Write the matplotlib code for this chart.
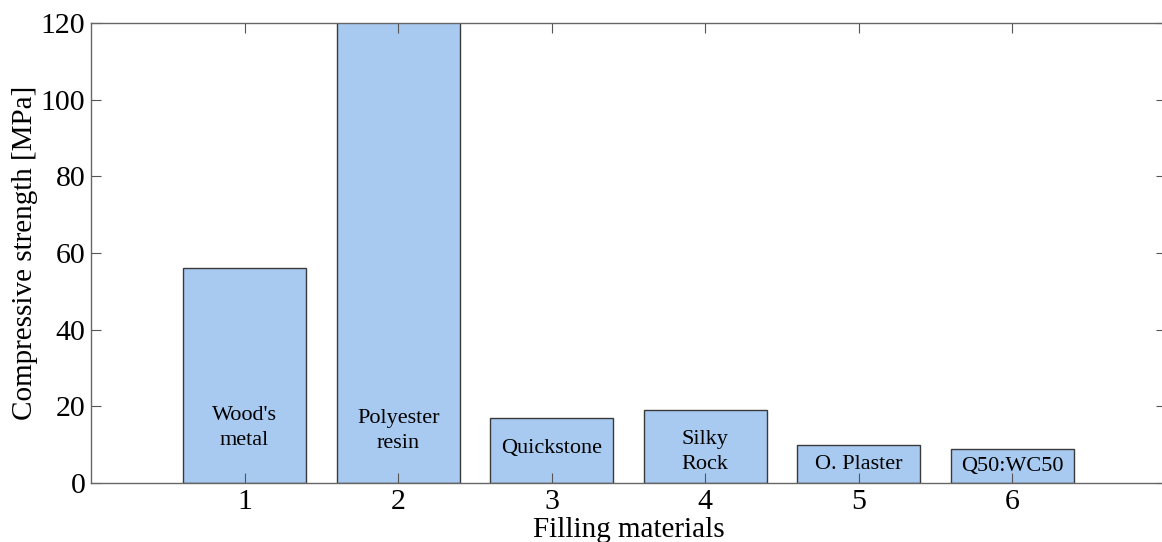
import matplotlib.pyplot as plt

materials = ["Wood's\nmetal", "Polyester\nresin", "Quickstone", "Silky\nRock", "O. Plaster", "Q50:WC50"]
positions = [1, 2, 3, 4, 5, 6]
strength = [56, 130, 17, 19, 10, 9]   # bar 2 runs off the top of the axis
label_y = [14.3, 13.6, 9.0, 8.1, 4.7, 4.4]

plt.rcParams['font.family'] = ['Liberation Serif', 'DejaVu Serif']

fig = plt.figure(figsize=(11.62, 5.42), dpi=100)
# axes spans x 91..1166 px, y 23..483 px (right spine falls off the image)
ax = fig.add_axes([91 / 1162, (542 - 483) / 542, (1166 - 91) / 1162, (483 - 23) / 542])

ax.bar(positions, strength, width=0.8, color='#a8caf0', edgecolor='#3a3a3a', linewidth=1.0)
for x, y, name in zip(positions, label_y, materials):
    ax.text(x, y, name, ha='center', va='center', fontsize=16, linespacing=1.4)

ax.set_xlim(0, 7)
ax.set_ylim(0, 120)
ax.set_xticks(positions)
ax.set_yticks(range(0, 121, 20))
ax.tick_params(direction='in', length=7, width=0.8, top=True, right=True,
               labelsize=21.5, colors='#555555', labelcolor='black', pad=4)
for s in ax.spines.values():
    s.set_color('#666666')
    s.set_linewidth(1.0)

ax.set_xlabel('Filling materials', fontsize=21, labelpad=2)
ax.set_ylabel('Compressive strength [MPa]', fontsize=21, labelpad=2)

fig.savefig('out.png', dpi=100)
